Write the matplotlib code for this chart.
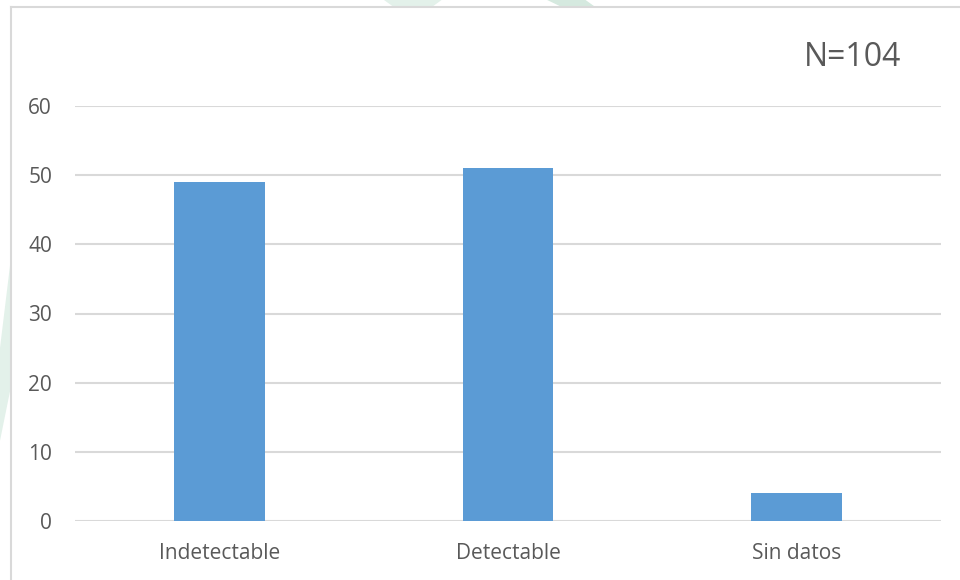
import matplotlib
matplotlib.use("Agg")
import matplotlib.pyplot as plt
from matplotlib.patches import Polygon

categories = ["Indetectable", "Detectable", "Sin datos"]
counts = [49, 51, 4]
yticks = [0, 10, 20, 30, 40, 50, 60]
total_label = "N=104"

plt.rcParams['font.family'] = ['Open Sans', 'DejaVu Sans']
text_grey = '#595959'
grid_grey = '#d9d9d9'

fig = plt.figure(figsize=(9.6, 5.8), dpi=100)

# faint green shapes behind the chart frame
fig.patches.append(Polygon([[0, 0.40], [0.011, 0.55], [0.011, 0.33], [0, 0.24]],
                           closed=True, transform=fig.transFigure,
                           facecolor='#e3f1ea', edgecolor='none', zorder=0))
fig.patches.append(Polygon([[0.40, 1.0], [0.46, 1.0], [0.45, 0.988], [0.41, 0.988]],
                           closed=True, transform=fig.transFigure,
                           facecolor='#e3f1ea', edgecolor='none', zorder=0))
fig.patches.append(Polygon([[0.57, 1.0], [0.61, 1.0], [0.62, 0.988], [0.585, 0.988]],
                           closed=True, transform=fig.transFigure,
                           facecolor='#d5e9df', edgecolor='none', zorder=0))

# chart frame (left and top edges visible)
fig.add_artist(plt.Line2D([11/960, 11/960], [0, 1 - 7/580], transform=fig.transFigure,
                          color=grid_grey, lw=1.5))
fig.add_artist(plt.Line2D([11/960, 1], [1 - 7/580, 1 - 7/580], transform=fig.transFigure,
                          color=grid_grey, lw=1.5))

ax = fig.add_axes([75/960, 1 - 521/580, (941 - 75)/960, (521 - 106)/580])
x = range(len(categories))
ax.bar(x, counts, width=0.315, color='#5b9bd5', zorder=3)

ax.set_xlim(-0.5, 2.5)
ax.set_ylim(0, 60)
ax.set_yticks(yticks)
ax.set_xticks(list(x))
ax.set_xticklabels(categories)
ax.yaxis.grid(True, color=grid_grey, lw=1.5, zorder=0)
ax.set_axisbelow(True)
for s in ax.spines.values():
    s.set_visible(False)
ax.tick_params(axis='both', length=0, labelsize=15, colors=text_grey)
ax.tick_params(axis='y', pad=16.5)
ax.tick_params(axis='x', pad=16)

fig.text(853/960, 1 - 57/580, total_label, ha='center', va='center',
         fontsize=23, color=text_grey)

fig.savefig('out.png', dpi=100, facecolor='white')
